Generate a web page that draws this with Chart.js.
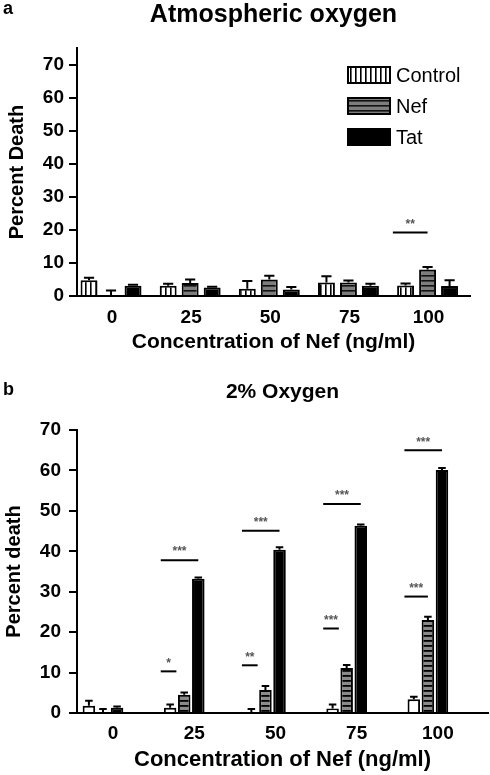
<!DOCTYPE html>
<html>
<head>
<meta charset="utf-8"/>
<title>Percent death – Nef / Tat</title>
<script src="https://cdn.jsdelivr.net/npm/chart.js"></script>
<style>
  body{margin:0;background:#fff;font-family:'Liberation Sans',Arial,sans-serif}
  .panel{position:absolute;left:0}
  .tag{position:absolute;left:3px;font-weight:700;font-size:18px;color:#000}
</style>
</head>
<body>
<div class="panel" style="top:0"><canvas id="chartA" width="490" height="355"></canvas></div>
<div class="tag" style="top:-2px">a</div>
<div class="panel" style="top:360px"><canvas id="chartB" width="490" height="415"></canvas></div>
<div class="tag" style="top:379px">b</div>

<script>
// categories (Nef ng/ml)
const conc=['0','25','50','75','100'];
const seriesNames=['Control','Nef','Tat'];

// panel a – atmospheric oxygen
const ctrlA=[4.8,3.1,2.2,4.1,3.2];
const ctrlAErr=[0.7,0.6,2.3,1.9,0.6];
const nefA=[0,3.9,5.0,4.1,8.0];
const nefAErr=[1.7,1.1,1.1,0.6,0.8];
const tatA=[3.1,2.6,2.0,3.1,3.0];
const tatAErr=[0.3,0.2,0.7,0.6,1.8];
const yTicksA=[0,10,20,30,40,50,60,70];

// panel b – 2% oxygen
const ctrlB=[1.8,1.3,0,1.1,3.4];
const ctrlBErr=[1.2,0.8,1.0,1.0,0.6];
const nefB=[0,4.5,5.7,11.1,23.0];
const nefBErr=[1.0,0.6,1.0,0.8,0.8];
const tatB=[1.3,33.2,40.4,46.3,60.1];
const tatBErr=[0.3,0.3,0.6,0.3,0.5];
const yTicksB=[0,10,20,30,40,50,60,70];

// significance brackets: category index, from series, to series, height, mark
const sigCatA=[4], sigFromA=[0], sigToA=[1], sigYA=[19.2], sigTextA=['**'];
const sigCatB=[1,1,2,2,3,3,4,4];
const sigFromB=[0,0,0,0,0,0,0,0];
const sigToB=[0,2,0,2,0,2,1,2];
const sigYB=[10.3,37.8,11.8,45.1,20.9,51.7,28.8,65.0];
const sigTextB=['*','***','**','***','***','***','***','***'];

Chart.defaults.font.family="'Liberation Sans', Arial, sans-serif";
Chart.defaults.color='#000';

function pattern(w,h,draw){
  const c=document.createElement('canvas');c.width=w;c.height=h;
  draw(c.getContext('2d'));
  return document.createElement('canvas').getContext('2d').createPattern(c,'repeat');
}
const vStripes=pattern(5,5,g=>{g.fillStyle='#fff';g.fillRect(0,0,5,5);g.fillStyle='#000';g.fillRect(0,0,1.6,5);});
const hStripes=pattern(5,5,g=>{g.fillStyle='#7d7d7d';g.fillRect(0,0,5,5);g.fillStyle='#111';g.fillRect(0,0,5,1.6);});
const hCells=pattern(5,5,g=>{g.fillStyle='#8a8a8a';g.fillRect(0,0,5,5);g.fillStyle='#000';g.fillRect(0,0,5,1.8);});

const pts=v=>v.map((y,i)=>({x:+conc[i],y}));

const errorBars={
  id:'errorBars',
  afterDatasetsDraw(chart){
    const ctx=chart.ctx,ys=chart.scales.y;
    ctx.save();ctx.strokeStyle='#000';ctx.lineWidth=2;
    chart.data.datasets.forEach((ds,d)=>{
      chart.getDatasetMeta(d).data.forEach((bar,i)=>{
        const top=ys.getPixelForValue(ds.data[i].y+ds.errors[i]);
        const cap=bar.width*0.3;
        ctx.beginPath();
        ctx.moveTo(bar.x,bar.y);ctx.lineTo(bar.x,top);
        ctx.moveTo(bar.x-cap,top);ctx.lineTo(bar.x+cap,top);
        ctx.stroke();
      });
    });
    ctx.restore();
  }
};

const sigMarks={
  id:'sigMarks',
  afterDraw(chart,args,o){
    const ctx=chart.ctx,ys=chart.scales.y;
    ctx.save();
    o.cat.forEach((c,k)=>{
      const a=chart.getDatasetMeta(o.from[k]).data[c];
      const b=chart.getDatasetMeta(o.to[k]).data[c];
      const x1=a.x-a.width*0.75;
      const x2=o.to[k]===o.from[k]?b.x+b.width*0.5:b.x;
      const y=ys.getPixelForValue(o.y[k]);
      ctx.strokeStyle='#000';ctx.lineWidth=2;
      ctx.beginPath();ctx.moveTo(x1,y);ctx.lineTo(x2,y);ctx.stroke();
      ctx.fillStyle='#555';ctx.font='bold 12px "Liberation Sans", Arial';
      ctx.textAlign='center';ctx.textBaseline='bottom';
      ctx.fillText(o.text[k],(x1+x2)/2,y-2);
    });
    ctx.restore();
  }
};

const boxLegend={
  id:'boxLegend',
  afterDraw(chart,args,o){
    if(!o.show)return;
    const ctx=chart.ctx,area=chart.chartArea;
    ctx.save();
    chart.data.datasets.forEach((ds,i)=>{
      const x=area.right-122,yc=area.top+27+i*31;
      ctx.fillStyle=ds.backgroundColor;ctx.fillRect(x,yc-8,42,16);
      ctx.strokeStyle='#000';ctx.lineWidth=2;ctx.strokeRect(x,yc-8,42,16);
      ctx.fillStyle='#000';ctx.font='20px "Liberation Sans", Arial';
      ctx.textAlign='left';ctx.textBaseline='middle';
      ctx.fillText(ds.label,x+48,yc+1);
    });
    ctx.restore();
  }
};

function makeChart(id,cfg){
  return new Chart(document.getElementById(id),{
    type:'bar',
    data:{datasets:cfg.sets.map((s,i)=>({
      label:seriesNames[i],data:pts(s.v),errors:s.err,
      backgroundColor:s.fill,borderColor:'#000',borderWidth:2,
      categoryPercentage:cfg.catPct,barPercentage:cfg.barPct
    }))},
    options:{
      responsive:false,animation:false,
      layout:{padding:{left:0,right:cfg.padRight,top:0,bottom:0}},
      plugins:{
        legend:{display:false},tooltip:{enabled:false},
        title:{display:true,fullSize:false,text:cfg.title,color:'#000',font:{size:cfg.titleSize,weight:'bold'},padding:cfg.titlePad},
        sigMarks:cfg.sig,
        boxLegend:{show:cfg.legend}
      },
      scales:{
        x:{type:'linear',min:cfg.xMin,max:cfg.xMax,offset:false,
          grid:{display:false,drawTicks:false},
          border:{display:true,color:'#000',width:2},
          ticks:{stepSize:25,includeBounds:false,padding:cfg.xTickPad,labelOffset:cfg.labelOffset,
            font:{size:19,weight:'bold'},color:'#000',callback:v=>conc.includes(String(v))?String(v):''},
          title:{display:true,text:'Concentration of Nef (ng/ml)',color:'#000',font:{size:cfg.xTitleSize,weight:'bold'},padding:{top:0,bottom:cfg.xTitlePadB}},
          afterFit:s=>{s.height=cfg.xHeight;}
        },
        y:{min:0,max:cfg.yMax,
          afterBuildTicks:s=>{s.ticks=cfg.yTicks.map(v=>({value:v}));},
          grid:{display:true,drawOnChartArea:false,drawTicks:true,tickLength:8,color:'#000',lineWidth:2},
          border:{display:true,color:'#000',width:2},
          ticks:{padding:cfg.yTickPad,font:{size:19,weight:'bold'},color:'#000'},
          title:{display:true,text:cfg.yTitle,color:'#000',font:{size:20,weight:'bold'},padding:{top:cfg.yTitlePadT,bottom:0}},
          afterFit:s=>{s.width=77;}
        }
      }
    },
    plugins:[errorBars,sigMarks,boxLegend]
  });
}

makeChart('chartA',{
  title:'Atmospheric oxygen',titleSize:25,titlePad:{top:0,bottom:18},
  sets:[{v:ctrlA,err:ctrlAErr,fill:vStripes},{v:nefA,err:nefAErr,fill:hStripes},{v:tatA,err:tatAErr,fill:'#000'}],
  catPct:0.834,barPct:0.77,padRight:20,xMin:-10.75,xMax:113.4,labelOffset:1,xTickPad:10,
  xTitleSize:21,xTitlePadB:0,xHeight:59,yMax:75,yTicks:yTicksA,yTickPad:5,
  yTitle:'Percent Death',yTitlePadT:5.5,legend:true,
  sig:{cat:sigCatA,from:sigFromA,to:sigToA,y:sigYA,text:sigTextA}
});

makeChart('chartB',{
  title:'2% Oxygen',titleSize:21,titlePad:{top:19.4,bottom:25.4},
  sets:[{v:ctrlB,err:ctrlBErr,fill:'#fff'},{v:nefB,err:nefBErr,fill:hCells},{v:tatB,err:tatBErr,fill:'#000'}],
  catPct:0.52,barPct:0.89,padRight:2,xMin:-8,xMax:118.5,labelOffset:10,xTickPad:9,
  xTitleSize:22,xTitlePadB:1.8,xHeight:62,yMax:70,yTicks:yTicksB,yTickPad:8,
  yTitle:'Percent death',yTitlePadT:2,legend:false,
  sig:{cat:sigCatB,from:sigFromB,to:sigToB,y:sigYB,text:sigTextB}
});
</script>
</body>
</html>
